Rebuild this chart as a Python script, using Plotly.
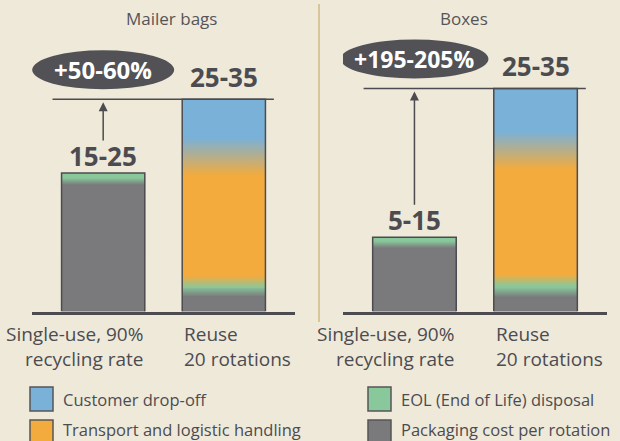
"""Cost per rotation: single-use vs reuse packaging (mailer bags and boxes)."""

import plotly.graph_objects as go

W, H = 620, 441

# ---- data -------------------------------------------------------------
panel_titles = ["Mailer bags", "Boxes"]
bar_labels = ["Single-use, 90%<br>recycling rate", "Reuse<br>20 rotations"]
components = [
    "Packaging cost per rotation",
    "EOL (End of Life) disposal",
    "Transport and logistic handling",
    "Customer drop-off",
]

# values per bar: [single-use, reuse]
mailer_packaging = [18.4, 2.8]
mailer_eol = [1.2, 1.4]
mailer_transport = [0.0, 17.7]
mailer_dropoff = [0.0, 8.1]
mailer_range_labels = ["15-25", "25-35"]
mailer_uplift = "+50-60%"

boxes_packaging = [9.0, 2.6]
boxes_eol = [1.0, 1.6]
boxes_transport = [0.0, 17.5]
boxes_dropoff = [0.0, 8.3]
boxes_range_labels = ["5-15", "25-35"]
boxes_uplift = "+195-205%"

legend_order = [
    "Customer drop-off",
    "EOL (End of Life) disposal",
    "Transport and logistic handling",
    "Packaging cost per rotation",
]

# ---- style ------------------------------------------------------------
BG = "#efe9da"
DARK = "#4c4c50"
COLORS = {
    "Packaging cost per rotation": "#7a7a7c",
    "EOL (End of Life) disposal": "#88c89b",
    "Transport and logistic handling": "#f3ab3e",
    "Customer drop-off": "#79b1d8",
}
FONT = "Open Sans"
BAR_W = 0.69
X_RANGE = [-0.59, 1.59]
Y_DOMAIN = [1 - 311.5 / H, 1]
PLOT_H = 311.5  # pixel height of the y domain


def px_x(x):
    return x / W


def px_y(y):
    return 1 - y / H


panels = [
    {
        "title": panel_titles[0],
        "title_x": 171,
        "values": [mailer_packaging, mailer_eol, mailer_transport, mailer_dropoff],
        "range_labels": mailer_range_labels,
        "uplift": mailer_uplift,
        "uplift_size": 24,
        "x_domain": [px_x(32), px_x(295)],
        "y_max": 44.05,
        "ellipse_half": 71,
    },
    {
        "title": panel_titles[1],
        "title_x": 464,
        "values": [boxes_packaging, boxes_eol, boxes_transport, boxes_dropoff],
        "range_labels": boxes_range_labels,
        "uplift": boxes_uplift,
        "uplift_size": 23,
        "x_domain": [px_x(343), px_x(607)],
        "y_max": 41.9,
        "ellipse_half": 74,
    },
]

# blend half-widths (pixels) at each stack boundary: reuse and single-use bars
BLEND_PX = {0: 5, 1: 6, 2: 19}
SINGLE_BLEND_PX = 3.5

fig = go.Figure()
shapes = []
annotations = []

for p, panel in enumerate(panels):
    sfx = "" if p == 0 else str(p + 1)
    xref, yref = "x" + sfx, "y" + sfx
    ppu = PLOT_H / panel["y_max"]
    xs = [0, 1]

    # stacked bars
    for comp, vals in zip(components, panel["values"]):
        fig.add_trace(
            go.Bar(
                x=xs,
                y=vals,
                width=BAR_W,
                name=comp,
                marker=dict(color=COLORS[comp], line=dict(width=0)),
                showlegend=False,
                hoverinfo="skip",
                xaxis=xref,
                yaxis=yref,
            )
        )

    totals = [sum(v[i] for v in panel["values"]) for i in xs]

    # soft blends between stacked segments
    for i in xs:
        cum = 0.0
        seg = [(c, v[i]) for c, v in zip(components, panel["values"]) if v[i] > 0]
        for k in range(len(seg) - 1):
            cum += seg[k][1]
            half_px = SINGLE_BLEND_PX if i == 0 else BLEND_PX.get(k, 5)
            h = half_px / ppu
            lo, hi = cum - h, cum + h
            fig.add_trace(
                go.Scatter(
                    x=[i - BAR_W / 2, i + BAR_W / 2, i + BAR_W / 2, i - BAR_W / 2, i - BAR_W / 2],
                    y=[lo, lo, hi, hi, lo],
                    mode="lines",
                    fill="toself",
                    line=dict(width=0),
                    fillgradient=dict(
                        type="vertical",
                        colorscale=[[0, COLORS[seg[k][0]]], [1, COLORS[seg[k + 1][0]]]],
                        start=lo,
                        stop=hi,
                    ),
                    showlegend=False,
                    hoverinfo="skip",
                    xaxis=xref,
                    yaxis=yref,
                )
            )
        # bar outline
        fig.add_trace(
            go.Scatter(
                x=[i - BAR_W / 2, i - BAR_W / 2, i + BAR_W / 2, i + BAR_W / 2],
                y=[0, totals[i], totals[i], 0],
                mode="lines",
                line=dict(color=DARK, width=1.5),
                showlegend=False,
                hoverinfo="skip",
                xaxis=xref,
                yaxis=yref,
            )
        )

    # reference line at reuse level
    shapes.append(
        dict(
            type="line", xref=xref, yref=yref, x0=-0.42, x1=1.415,
            y0=totals[1], y1=totals[1], line=dict(color=DARK, width=1.5),
        )
    )
    # uplift ellipse
    half = panel["ellipse_half"]
    shapes.append(
        dict(
            type="circle", xref=xref, yref=yref, xsizemode="pixel", ysizemode="pixel",
            xanchor=0, yanchor=totals[1], x0=-half, x1=half, y0=10, y1=49,
            fillcolor="#515156", line=dict(width=0), layer="above",
        )
    )
    annotations.append(
        dict(
            x=0, y=totals[1], xref=xref, yref=yref, yshift=29.5, yanchor="middle",
            xanchor="center", text="<b>%s</b>" % panel["uplift"], showarrow=False,
            font=dict(family=FONT, size=panel["uplift_size"], color="white"),
        )
    )
    # arrow from single-use level to reuse line
    annotations.append(
        dict(
            x=0, y=totals[1], xref=xref, yref=yref, ax=0, ay=totals[0] + 31 / ppu,
            axref=xref, ayref=yref, text="", showarrow=True, arrowhead=2,
            arrowsize=1.2, arrowwidth=1.5, arrowcolor=DARK, standoff=3,
        )
    )
    # range labels above bars
    annotations.append(
        dict(
            x=0, y=totals[0], xref=xref, yref=yref, yshift=17, yanchor="middle",
            xanchor="center", text="<b>%s</b>" % panel["range_labels"][0], showarrow=False,
            font=dict(family=FONT, size=26, color=DARK),
        )
    )
    annotations.append(
        dict(
            x=1, y=totals[1], xref=xref, yref=yref, yshift=22, yanchor="middle",
            xanchor="center", text="<b>%s</b>" % panel["range_labels"][1], showarrow=False,
            font=dict(family=FONT, size=26, color=DARK),
        )
    )
    # category labels under bars
    annotations.append(
        dict(
            x=BAR_W / 2, y=0, xref=xref, yref=yref, xanchor="right", yanchor="top",
            align="right", yshift=-7, text=bar_labels[0], showarrow=False,
            font=dict(family=FONT, size=19, color=DARK),
        )
    )
    annotations.append(
        dict(
            x=1 - BAR_W / 2, y=0, xref=xref, yref=yref, xanchor="left", yanchor="top",
            align="left", yshift=-7, text=bar_labels[1], showarrow=False,
            font=dict(family=FONT, size=19, color=DARK),
        )
    )
    # panel title
    annotations.append(
        dict(
            x=px_x(panel["title_x"]), y=px_y(19), xref="paper", yref="paper",
            xanchor="center", yanchor="middle", text=panel["title"], showarrow=False,
            font=dict(family=FONT, size=17, color="#555558"),
        )
    )

    axis_common = dict(showgrid=False, zeroline=False, showticklabels=False, ticks="")
    fig.layout["xaxis" + sfx] = dict(
        domain=panel["x_domain"], range=X_RANGE, showline=True, linecolor=DARK,
        linewidth=3, anchor=yref, fixedrange=True, **axis_common,
    )
    fig.layout["yaxis" + sfx] = dict(
        domain=Y_DOMAIN, range=[0, panel["y_max"]], showline=False, anchor=xref,
        fixedrange=True, **axis_common,
    )

# divider between panels
shapes.append(
    dict(
        type="line", xref="paper", yref="paper", x0=px_x(319), x1=px_x(319),
        y0=px_y(4), y1=px_y(322), line=dict(color="#d8c69b", width=2),
    )
)

# manual legend, two columns (second row sits on the bottom edge)
legend_pos = [(30, 399), (368, 399), (30, 432), (368, 432)]
for comp, (lx, ly) in zip(legend_order, legend_pos):
    shapes.append(
        dict(
            type="rect", xref="paper", yref="paper",
            x0=px_x(lx), x1=px_x(lx + 23), y0=px_y(ly - 12), y1=px_y(ly + 12),
            fillcolor=COLORS[comp], line=dict(color="#555558", width=1.5),
        )
    )
    annotations.append(
        dict(
            x=px_x(lx + 31), y=px_y(min(ly, 429)), xref="paper", yref="paper",
            xanchor="left", yanchor="middle", text=comp, showarrow=False,
            font=dict(family=FONT, size=16.5, color=DARK),
        )
    )

fig.update_layout(
    width=W,
    height=H,
    margin=dict(l=0, r=0, t=0, b=0),
    paper_bgcolor=BG,
    plot_bgcolor=BG,
    barmode="stack",
    bargap=0,
    showlegend=False,
    shapes=shapes,
    annotations=annotations,
    font=dict(family=FONT, color=DARK),
)

# drop the browser's default page margin so the chart sits at the window origin
page_css = "document.body.style.margin='0';document.body.style.background='%s';" % BG
fig.write_html("out.html", post_script=page_css, config={"displayModeBar": False})
